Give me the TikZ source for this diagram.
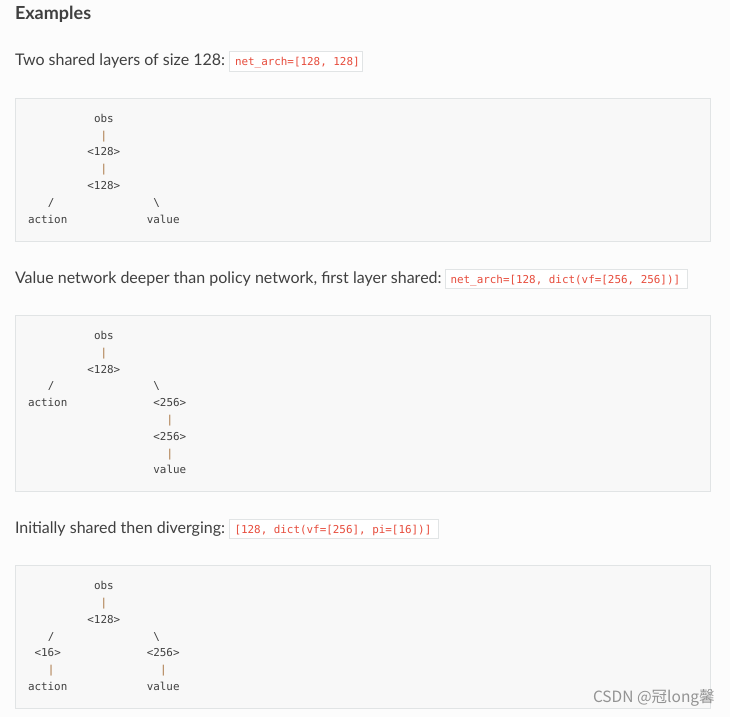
\documentclass[tikz,border=0pt]{standalone}
\usepackage{fontspec}
\setmainfont{Lato}
\setmonofont{DejaVu Sans Mono}
\newfontfamily\cjkfont{Noto Sans CJK SC}
\definecolor{pagebg}{HTML}{FCFCFC}
\definecolor{txt}{HTML}{404040}
\definecolor{litred}{HTML}{E74C3C}
\definecolor{litborder}{HTML}{E1E4E5}
\definecolor{blkbg}{HTML}{F8F8F8}
\definecolor{blkborder}{HTML}{E1E4E5}
\definecolor{opcol}{HTML}{A6703C}
\definecolor{wmark}{HTML}{939393}
\begin{document}
\begin{tikzpicture}[x=1pt,y=-1pt,every node/.style={inner sep=0pt,outer sep=0pt}]
\tikzset{
  heading/.style={font=\fontsize{18}{22}\selectfont\bfseries,text=txt,anchor=base west},
  body/.style={font=\fontsize{16}{19}\selectfont,text=txt,anchor=base west},
  lit/.style={font=\ttfamily\fontsize{10.9}{13}\selectfont,text=litred,anchor=base west},
  litbox/.style={draw=litborder,fill=white,line width=1pt},
  block/.style={draw=blkborder,fill=blkbg,line width=1pt},
  mono/.style={font=\ttfamily\fontsize{10.9}{13}\selectfont,text=txt,anchor=base west},
  op/.style={mono,text=opcol},
  wm/.style={font=\cjkfont\fontsize{15.5}{18}\selectfont,text=wmark,anchor=base west}
}
\useasboundingbox[fill=pagebg] (0,0) rectangle (730,717);

% heading
\node[heading] (title) at (15,20) {Examples};

% ---------- example 1 ----------
\node[body] (t1) at (15,65.5) {Two shared layers of size 128:};
\draw[litbox] (229.5,51.5) rectangle (362,71);
\node[lit] (c1) at (235,65.5) {net\_arch=[128, 128]};
\draw[block] (15.5,98.5) rectangle (710.5,241);
\node[mono] (a-obs) at (94,122.3) {obs};
\node[op]   (a-p1)  at (100.6,139.1) {|};
\node[mono] (a-h1)  at (87.4,155.9) {<128>};
\node[op]   (a-p2)  at (100.6,172.7) {|};
\node[mono] (a-h2)  at (87.4,189.5) {<128>};
\node[mono] (a-sl)  at (47.8,206.3) {/};
\node[mono] (a-bs)  at (153.4,206.3) {\textbackslash};
\node[mono] (a-act) at (28,223.1) {action};
\node[mono] (a-val) at (146.8,223.1) {value};

% ---------- example 2 ----------
\node[body] (t2) at (15,283.3) {Value network deeper than policy network, first layer shared:};
\draw[litbox] (445.5,269) rectangle (687.5,288.5);
\node[lit] (c2) at (450.5,283.3) {net\_arch=[128, dict(vf=[256, 256])]};
\draw[block] (15.5,315.5) rectangle (710.5,491);
\node[mono] (b-obs) at (94,339.5) {obs};
\node[op]   (b-p1)  at (100.6,356.3) {|};
\node[mono] (b-h1)  at (87.4,373.1) {<128>};
\node[mono] (b-sl)  at (47.8,389.9) {/};
\node[mono] (b-bs)  at (153.4,389.9) {\textbackslash};
\node[mono] (b-act) at (28,406.7) {action};
\node[mono] (b-v1)  at (153.4,406.7) {<256>};
\node[op]   (b-p2)  at (166.6,423.5) {|};
\node[mono] (b-v2)  at (153.4,440.3) {<256>};
\node[op]   (b-p3)  at (166.6,457.1) {|};
\node[mono] (b-val) at (153.4,473.9) {value};

% ---------- example 3 ----------
\node[body] (t3) at (15,533.3) {Initially shared then diverging:};
\draw[litbox] (229.5,519) rectangle (438.5,538.3);
\node[lit] (c3) at (234.5,533.3) {[128, dict(vf=[256], pi=[16])]};
\draw[block] (15.5,565.5) rectangle (710.5,708);
\node[mono] (c-obs) at (94,589.7) {obs};
\node[op]   (c-p1)  at (100.6,606.5) {|};
\node[mono] (c-h1)  at (87.4,623.3) {<128>};
\node[mono] (c-sl)  at (47.8,640.1) {/};
\node[mono] (c-bs)  at (153.4,640.1) {\textbackslash};
\node[mono] (c-pi)  at (34.6,656.9) {<16>};
\node[mono] (c-vf)  at (146.8,656.9) {<256>};
\node[op]   (c-p2)  at (47.8,673.7) {|};
\node[op]   (c-p3)  at (160,673.7) {|};
\node[mono] (c-act) at (28,690.5) {action};
\node[mono] (c-val) at (146.8,690.5) {value};

% watermark
\node[wm] (wmk) at (593,702) {CSDN @冠long馨};
\end{tikzpicture}
\end{document}
